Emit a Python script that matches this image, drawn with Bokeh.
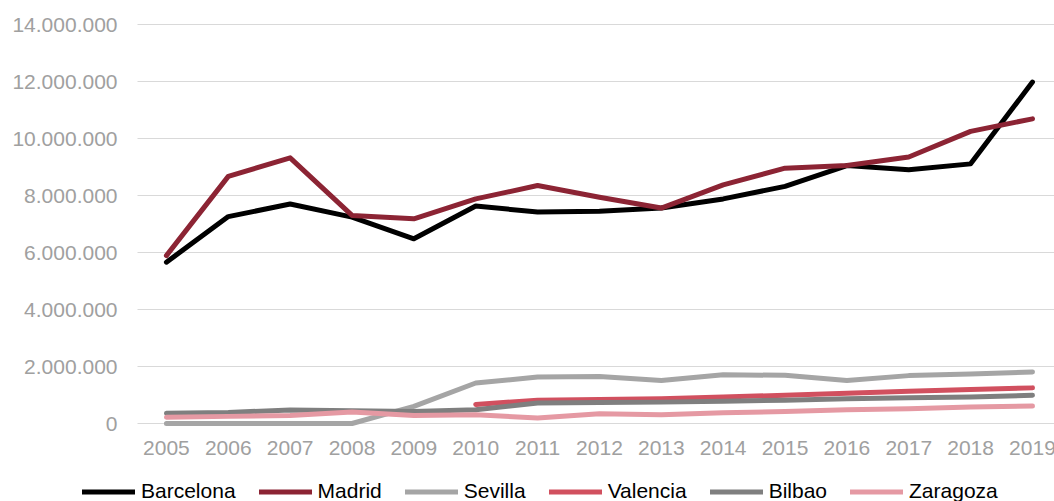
import numpy as np
from bokeh.plotting import figure
from bokeh.models import Legend, LegendItem, Range1d
from bokeh.core.properties import value
from bokeh.embed import file_html
from bokeh.resources import INLINE

years = list(range(2005, 2020))
year_labels = [str(y) for y in years]
barcelona = [5660000, 7260000, 7700000, 7240000, 6480000, 7630000, 7420000, 7450000, 7560000, 7880000, 8320000, 9050000, 8900000, 9110000, 11980000]
madrid = [5890000, 8670000, 9320000, 7300000, 7180000, 7880000, 8350000, 7940000, 7560000, 8370000, 8960000, 9050000, 9350000, 10250000, 10690000]
sevilla = [0, 0, 0, 0, 600000, 1420000, 1630000, 1650000, 1510000, 1710000, 1690000, 1510000, 1680000, 1740000, 1810000]
valencia = [None, None, None, None, None, 670000, 820000, 840000, 870000, 930000, 990000, 1060000, 1130000, 1190000, 1250000]
bilbao = [360000, 390000, 470000, 450000, 420000, 480000, 720000, 740000, 750000, 780000, 820000, 870000, 900000, 930000, 990000]
zaragoza = [220000, 250000, 280000, 400000, 280000, 310000, 190000, 340000, 310000, 380000, 420000, 480000, 520000, 580000, 610000]

names = ["Barcelona", "Madrid", "Sevilla", "Valencia", "Bilbao", "Zaragoza"]
series = [barcelona, madrid, sevilla, valencia, bilbao, zaragoza]
colors = ["#000000", "#8C2434", "#A5A5A5", "#D1505F", "#7F7F7F", "#E599A3"]
y_ticks = [0, 2000000, 4000000, 6000000, 8000000, 10000000, 12000000, 14000000]
y_tick_labels = ["0", "2.000.000", "4.000.000", "6.000.000", "8.000.000", "10.000.000", "12.000.000", "14.000.000"]

FONT = "Liberation Sans"
PX = 2000000 / 57.0          # data units per screen pixel (y)
XPX = 919 / 14.856           # screen pixels per year (x)
X0 = 2004.5 - 135 / XPX      # left edge of the drawing area
X1 = 2019.356

p = figure(frame_width=1054, frame_height=487, output_backend="svg", toolbar_location=None,
           x_axis_location=None, y_axis_location=None,
           x_range=Range1d(X0, X1), y_range=Range1d(-78 * PX, 14000000 + 10 * PX),
           min_border_left=0, min_border_right=0, min_border_top=14, min_border_bottom=0)
p.outline_line_color = None
p.xgrid.grid_line_color = None
p.ygrid.grid_line_color = None

# horizontal gridlines at the value ticks
p.segment(x0=[2004.5 + 2 / XPX] * len(y_ticks), x1=[X1] * len(y_ticks), y0=y_ticks, y1=y_ticks,
          line_color="#D9D9D9", line_width=1)

# value labels on the left
p.text(x=[X0 + 117 / XPX] * len(y_ticks), y=y_ticks, text=y_tick_labels,
       text_font=value(FONT), text_font_size="21px", text_color="#A0A0A0",
       text_align="right", text_baseline="middle")

# category labels along the bottom
p.text(x=years, y=[-24.5 * PX] * len(years), text=year_labels,
       text_font=value(FONT), text_font_size="21px", text_color="#A0A0A0",
       text_align="center", text_baseline="middle")

items = []
for name, vals, c in zip(names, series, colors):
    xs = [y for y, v in zip(years, vals) if v is not None]
    ys = [v for v in vals if v is not None]
    r = p.line(xs, ys, line_color=c, line_width=5, line_cap="round", line_join="round")
    items.append(LegendItem(label=name, renderers=[r]))

legend = Legend(items=items, orientation="horizontal", location=(82, -2),
                label_text_font=FONT, label_text_font_size="21px", label_text_color="#000000",
                glyph_width=53, glyph_height=21, label_standoff=6, spacing=23,
                padding=0, margin=0, border_line_color=None, background_fill_alpha=0,
                label_height=21)
p.add_layout(legend, "center")

open("out.html", "w").write(file_html(p, INLINE))
